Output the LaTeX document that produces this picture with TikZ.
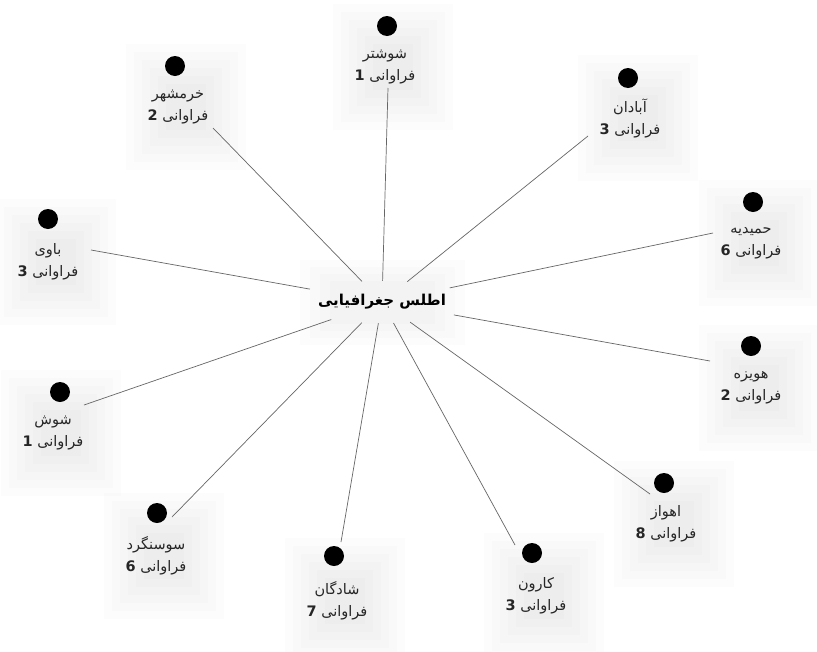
\documentclass[tikz,border=0pt]{standalone}
\usepackage{fontspec}
\newfontfamily\ar[Script=Arabic]{DejaVu Sans}
\TeXXeTstate=1
\usetikzlibrary{shapes.geometric}
\tikzset{
  x=1pt,y=-1pt,
  dot/.style={circle,fill=black,minimum size=20pt,inner sep=0pt},
  lbl/.style={align=center,inner sep=1pt,font=\ar\fontsize{14.5}{22}\selectfont,text=black!85},
  hub/.style={ellipse,minimum width=144pt,minimum height=42pt,inner sep=0pt,font=\ar\bfseries\fontsize{15}{18}\selectfont},
  edge/.style={draw=black!60,line width=0.7pt},
  glow/.style={fill=black,opacity=0.012,draw=none}
}
\newcommand{\glowat}[2]{%
  \foreach \s in {60,52,44,36,28,20} {%
    \fill[glow] (#1-\s+8,#2-\s) rectangle (#1+\s+8,#2+\s+6);}}
\newcommand{\leaf}[7]{% name, dotx, doty, lblx, lbly, city, count
  \glowat{#4}{#5}
  \node[dot] (d#1) at (#2,#3) {};
  \node[lbl] (l#1) at (#4,#5+3) {\beginR #6\endR\\\beginR فراوانی \textbf{#7}\endR};}
\begin{document}
\begin{tikzpicture}
\useasboundingbox (0,0) rectangle (817,651);
\fill[white] (0,0) rectangle (817,651);
% hub glow
\foreach \s in {0,10,20,30} {%
  \fill[glow] (300+\s,260+\s*0.7) rectangle (465-\s,345-\s*0.7);}
\node[hub] (c) at (382,302) {\beginR اطلس جغرافیایی\endR};
\leaf{a}{387}{26}{385}{64}{شوشتر}{1}
\leaf{b}{175}{66}{178}{104}{خرمشهر}{2}
\leaf{c}{628}{78}{630}{115}{آبادان}{3}
\leaf{d}{48}{219}{48}{259}{باوی}{3}
\leaf{e}{753}{202}{751}{240}{حمیدیه}{6}
\leaf{f}{751}{346}{751}{385}{هویزه}{2}
\leaf{g}{60}{392}{53}{430}{شوش}{1}
\leaf{h}{664}{483}{666}{521}{اهواز}{8}
\leaf{i}{157}{513}{156}{553}{سوسنگرد}{6}
\leaf{j}{334}{556}{337}{598}{شادگان}{7}
\leaf{k}{532}{553}{536}{593}{کارون}{3}
\coordinate (ea) at (388,88);
\coordinate (eb) at (213,128);
\coordinate (ec) at (588,136);
\coordinate (ed) at (91,250);
\coordinate (ee) at (713,233);
\coordinate (ef) at (710,361);
\coordinate (eg) at (84,405);
\coordinate (eh) at (650,494);
\coordinate (ei) at (172,517);
\coordinate (ej) at (341,542);
\coordinate (ek) at (515,545);
\foreach \n in {a,b,c,d,e,f,g,h,i,j,k} \draw[edge] (c) -- (e\n);
\end{tikzpicture}
\end{document}
